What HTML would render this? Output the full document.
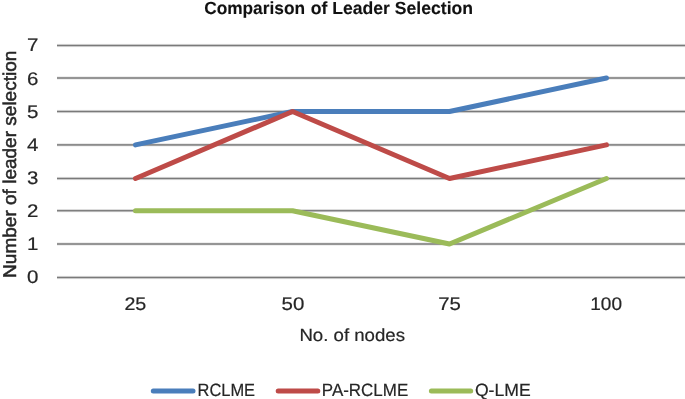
<!DOCTYPE html>
<html><head><meta charset="utf-8">
<style>
html,body{margin:0;padding:0;background:#fff;}
body{width:685px;height:399px;overflow:hidden;}
svg{display:block;will-change:transform;}
text{text-rendering:geometricPrecision;font-family:"Liberation Sans",sans-serif;fill:#262626;stroke:#262626;stroke-width:0.2px;}
#yt{stroke-width:0.5px;}
#title,#title2{fill:#111;stroke:#111;stroke-width:0.1px;}
</style></head>
<body>
<svg width="685" height="399" viewBox="0 0 685 399">
<rect x="0" y="0" width="685" height="399" fill="#fff"/>
<g >
<g id="gridh"></g>
<g id="grid">
<rect x="57" y="275" width="628" height="1" fill="rgb(252,252,252)"/>
<rect x="57" y="276" width="628" height="1" fill="rgb(202,202,202)"/>
<rect x="57" y="277" width="628" height="1" fill="rgb(122,122,122)"/>
<rect x="57" y="278" width="628" height="1" fill="rgb(202,202,202)"/>
<rect x="57" y="279" width="628" height="1" fill="rgb(252,252,252)"/>
<rect x="57" y="242" width="628" height="1" fill="rgb(239,239,239)"/>
<rect x="57" y="243" width="628" height="1" fill="rgb(149,149,149)"/>
<rect x="57" y="244" width="628" height="1" fill="rgb(149,149,149)"/>
<rect x="57" y="245" width="628" height="1" fill="rgb(239,239,239)"/>
<rect x="57" y="209" width="628" height="1" fill="rgb(220,220,220)"/>
<rect x="57" y="210" width="628" height="1" fill="rgb(127,127,127)"/>
<rect x="57" y="211" width="628" height="1" fill="rgb(181,181,181)"/>
<rect x="57" y="212" width="628" height="1" fill="rgb(249,249,249)"/>
<rect x="57" y="176" width="628" height="1" fill="rgb(252,252,252)"/>
<rect x="57" y="177" width="628" height="1" fill="rgb(202,202,202)"/>
<rect x="57" y="178" width="628" height="1" fill="rgb(122,122,122)"/>
<rect x="57" y="179" width="628" height="1" fill="rgb(202,202,202)"/>
<rect x="57" y="180" width="628" height="1" fill="rgb(252,252,252)"/>
<rect x="57" y="143" width="628" height="1" fill="rgb(234,234,234)"/>
<rect x="57" y="144" width="628" height="1" fill="rgb(140,140,140)"/>
<rect x="57" y="145" width="628" height="1" fill="rgb(159,159,159)"/>
<rect x="57" y="146" width="628" height="1" fill="rgb(243,243,243)"/>
<rect x="57" y="109" width="628" height="1" fill="rgb(252,252,252)"/>
<rect x="57" y="110" width="628" height="1" fill="rgb(202,202,202)"/>
<rect x="57" y="111" width="628" height="1" fill="rgb(122,122,122)"/>
<rect x="57" y="112" width="628" height="1" fill="rgb(202,202,202)"/>
<rect x="57" y="113" width="628" height="1" fill="rgb(252,252,252)"/>
<rect x="57" y="76" width="628" height="1" fill="rgb(239,239,239)"/>
<rect x="57" y="77" width="628" height="1" fill="rgb(149,149,149)"/>
<rect x="57" y="78" width="628" height="1" fill="rgb(149,149,149)"/>
<rect x="57" y="79" width="628" height="1" fill="rgb(239,239,239)"/>
<rect x="57" y="43" width="628" height="1" fill="rgb(252,252,252)"/>
<rect x="57" y="44" width="628" height="1" fill="rgb(202,202,202)"/>
<rect x="57" y="45" width="628" height="1" fill="rgb(122,122,122)"/>
<rect x="57" y="46" width="628" height="1" fill="rgb(202,202,202)"/>
<rect x="57" y="47" width="628" height="1" fill="rgb(252,252,252)"/>
</g>
<g id="series" fill="none" stroke-width="5.0" stroke-linecap="round" stroke-linejoin="round">
<polyline stroke="#4A7EBB" points="135.5,144.90 292.5,111.50 449.5,111.50 606.5,78.00"/>
<polyline stroke="#BE4B48" points="135.5,178.50 292.5,111.50 449.5,178.50 606.5,144.90"/>
<polyline stroke="#9BBB59" points="135.5,210.70 292.5,210.70 449.5,244.00 606.5,178.50"/>
</g>
<g id="legend" stroke-width="5.0" stroke-linecap="round">
<line x1="153.3" y1="391" x2="193" y2="391" stroke="#4A7EBB"/>
<line x1="278.2" y1="391" x2="317.8" y2="391" stroke="#BE4B48"/>
<line x1="431.4" y1="391" x2="470.7" y2="391" stroke="#9BBB59"/>
</g>
<g id="texts">
<text id="title" x="204.155" y="14.000" font-size="17.500" font-weight="bold" textLength="100.885" lengthAdjust="spacingAndGlyphs">Comparison</text>
<text id="title2" x="310.721" y="14.000" font-size="17.500" font-weight="bold" textLength="162.354" lengthAdjust="spacingAndGlyphs">of Leader Selection</text>
<text id="xt" x="299.423" y="341.000" font-size="17.500" textLength="105.572" lengthAdjust="spacingAndGlyphs">No. of nodes</text>
<text id="yt" transform="translate(15.600,277.916) rotate(-90)" font-size="18.500" textLength="227.283" lengthAdjust="spacingAndGlyphs">Number of leader selection</text>
<text id="l1" x="197.503" y="396.000" font-size="17.800" textLength="57.606" lengthAdjust="spacingAndGlyphs">RCLME</text>
<text id="l2" x="321.870" y="396.000" font-size="17.800" textLength="86.349" lengthAdjust="spacingAndGlyphs">PA-RCLME</text>
<text id="l3" x="474.877" y="396.000" font-size="17.800" textLength="55.782" lengthAdjust="spacingAndGlyphs">Q-LME</text>
<text id="x25" x="124.421" y="310.000" font-size="18.300" textLength="21.878" lengthAdjust="spacingAndGlyphs">25</text>
<text id="x50" x="281.628" y="310.000" font-size="18.300" textLength="22.762" lengthAdjust="spacingAndGlyphs">50</text>
<text id="x75" x="438.297" y="310.000" font-size="18.300" textLength="22.632" lengthAdjust="spacingAndGlyphs">75</text>
<text id="x100" x="590.280" y="310.000" font-size="18.300" textLength="31.732" lengthAdjust="spacingAndGlyphs">100</text>
<text id="y0" x="27.094" y="283.000" font-size="18.300" textLength="11.390" lengthAdjust="spacingAndGlyphs">0</text>
<text id="y1" x="27.094" y="250.000" font-size="18.300" textLength="11.390" lengthAdjust="spacingAndGlyphs">1</text>
<text id="y2" x="27.094" y="217.000" font-size="18.300" textLength="11.390" lengthAdjust="spacingAndGlyphs">2</text>
<text id="y3" x="27.094" y="184.000" font-size="18.300" textLength="11.390" lengthAdjust="spacingAndGlyphs">3</text>
<text id="y4" x="27.094" y="151.000" font-size="18.300" textLength="11.390" lengthAdjust="spacingAndGlyphs">4</text>
<text id="y5" x="27.094" y="118.000" font-size="18.300" textLength="11.390" lengthAdjust="spacingAndGlyphs">5</text>
<text id="y6" x="27.094" y="85.000" font-size="18.300" textLength="11.390" lengthAdjust="spacingAndGlyphs">6</text>
<text id="y7" x="27.094" y="51.000" font-size="18.300" textLength="11.390" lengthAdjust="spacingAndGlyphs">7</text>
</g>
</g>
</svg>
</body></html>
